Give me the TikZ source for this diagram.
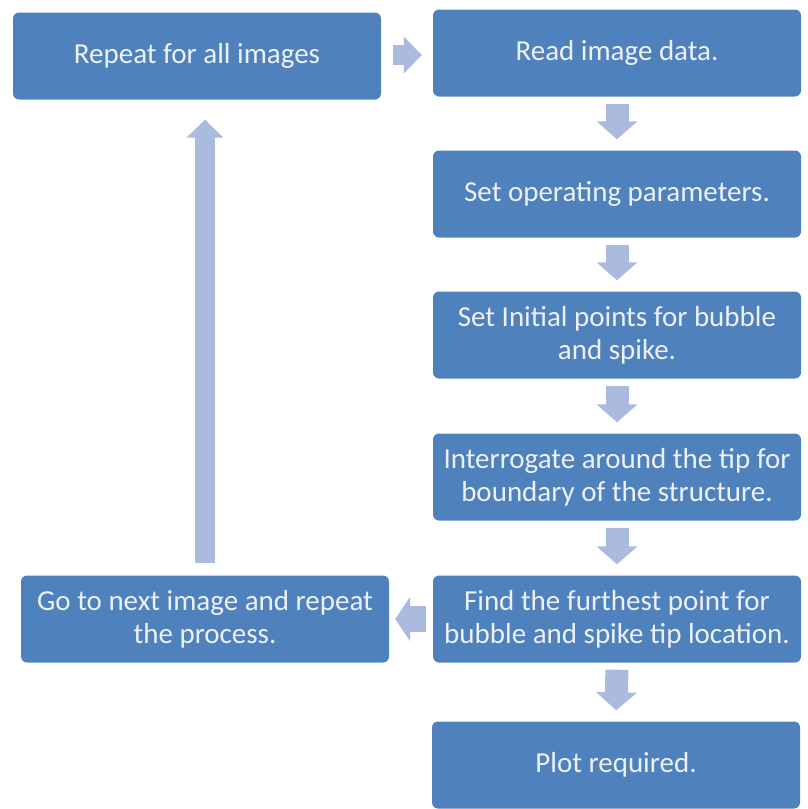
\documentclass[tikz,border=0pt]{standalone}
\usepackage{fontspec}
\setmainfont{Carlito}
\usepackage{tikz}
\usetikzlibrary{arrows.meta, positioning}
\definecolor{stepblue}{RGB}{79, 129, 189}
\definecolor{steptext}{RGB}{236, 241, 248}
\definecolor{flowblue}{RGB}{170, 187, 223}
\tikzset{
  stepbox/.style={rectangle, rounded corners=6pt, fill=stepblue, text=steptext,
    minimum width=368pt, minimum height=87pt, align=center, inner sep=0pt,
    font=\fontsize{29}{33}\selectfont},
  downarrow/.style={flowblue, line width=23pt, shorten <=7pt, shorten >=11pt,
    -{Triangle[length=18pt, width=40pt]}},
  backarrow/.style={flowblue, line width=20pt,
    -{Triangle[length=18pt, width=36pt]}},
  leftarrow/.style={flowblue, line width=26pt, shorten <=7pt, shorten >=6pt,
    -{Triangle[length=15pt, width=44pt]}}
}
\begin{document}
\begin{tikzpicture}[x=1pt, y=-1pt]
    \useasboundingbox (0, 0) rectangle (808, 809);

    % left column
    \node[stepbox] (repeat) at (197, 56) {Repeat for all images};
    \node[stepbox] (next) at (205, 619) {Go to next image and repeat\\the process.};

    % right column, top to bottom
    \node[stepbox] (read) at (617, 53) {Read image data.};
    \node[stepbox] (params) at (617, 194) {Set operating parameters.};
    \node[stepbox] (init) at (617, 335) {Set Initial points for bubble\\and spike.};
    \node[stepbox] (probe) at (617, 477) {Interrogate around the tip for\\boundary of the structure.};
    \node[stepbox] (furthest) at (617, 619) {Find the furthest point for\\bubble and spike tip location.};
    \node[stepbox] (plot) at (616, 765) {Plot required.};

    % flow down the right column
    \foreach \a/\b in {read/params, params/init, init/probe, probe/furthest, furthest/plot}
        \draw[downarrow] (\a.south) -- (\b.north);

    % loop back
    \draw[leftarrow] (furthest.west) -- (next.east);
    \draw[backarrow, shorten <=12pt, shorten >=20pt] (next.north) -- (next.north |- repeat.south);
    \draw[backarrow, shorten <=12pt, shorten >=11pt] (repeat.east |- 0,55) -- (read.west |- 0,55);
\end{tikzpicture}
\end{document}
